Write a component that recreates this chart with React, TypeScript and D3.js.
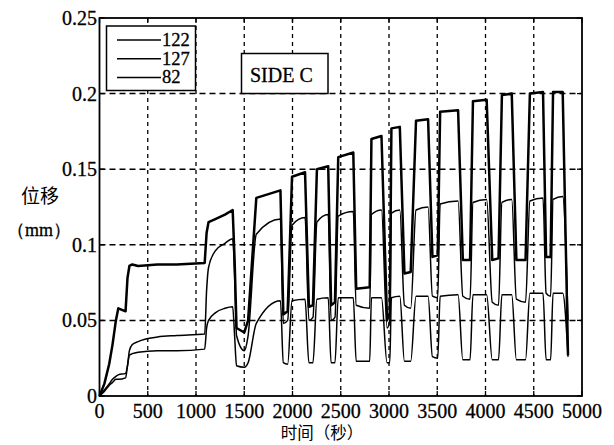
import React from "react";
import * as d3 from "d3";

// time axis shared by the three gauges (seconds)
const timeSec = [
  0, 50, 100, 135, 170, 195, 270, 290, 310, 340, 400, 600, 800, 1090, 1110, 1130, 1200, 1300, 1380,
  1400, 1420, 1500, 1540, 1625,
  1875, 1905, 1950, 1995,
  2130, 2170, 2212, 2253,
  2370, 2400, 2440, 2474,
  2630, 2660, 2800, 2818,
  2922, 2980, 3008, 3025,
  3112, 3160, 3225, 3280,
  3405, 3450, 3505, 3530,
  3716, 3765, 3840, 3870,
  4012, 4070, 4135, 4170,
  4272, 4320, 4415, 4460,
  4596, 4628, 4675, 4700,
  4800, 4855,
];

// displacement (mm)
const disp122 = [
  0, 0.008, 0.021, 0.034, 0.05, 0.058, 0.056, 0.078, 0.086, 0.087, 0.086, 0.087, 0.087, 0.088, 0.108, 0.115, 0.117, 0.12, 0.123,
  0.09, 0.045, 0.042, 0.05, 0.131,
  0.136, 0.054, 0.056, 0.145,
  0.148, 0.059, 0.06, 0.15,
  0.152, 0.06, 0.062, 0.158,
  0.161, 0.071, 0.072, 0.17,
  0.172, 0.05, 0.055, 0.177,
  0.178, 0.081, 0.082, 0.182,
  0.183, 0.092, 0.093, 0.188,
  0.189, 0.09, 0.09, 0.195,
  0.196, 0.09, 0.091, 0.199,
  0.2, 0.09, 0.09, 0.2,
  0.201, 0.092, 0.092, 0.201,
  0.201, 0.027,
];

const disp127 = [
  0, 0.004, 0.008, 0.011, 0.013, 0.014, 0.015, 0.02, 0.03, 0.034, 0.036, 0.039, 0.04, 0.041, 0.07, 0.085, 0.096, 0.101, 0.104,
  0.08, 0.04, 0.03, 0.04, 0.107,
  0.117, 0.048, 0.05, 0.113,
  0.118, 0.05, 0.052, 0.115,
  0.12, 0.05, 0.052, 0.119,
  0.122, 0.06, 0.058, 0.12,
  0.123, 0.045, 0.05, 0.121,
  0.123, 0.06, 0.058, 0.123,
  0.125, 0.066, 0.065, 0.127,
  0.129, 0.066, 0.064, 0.128,
  0.13, 0.062, 0.06, 0.128,
  0.13, 0.064, 0.062, 0.129,
  0.131, 0.068, 0.066, 0.13,
  0.132, 0.05,
];

const disp82 = [
  0, 0.003, 0.007, 0.009, 0.011, 0.011, 0.012, 0.02, 0.027, 0.028, 0.029, 0.03, 0.03, 0.031, 0.045, 0.05, 0.055, 0.058, 0.059,
  0.04, 0.02, 0.019, 0.022, 0.048,
  0.063, 0.022, 0.021, 0.063,
  0.064, 0.022, 0.022, 0.064,
  0.065, 0.022, 0.022, 0.065,
  0.065, 0.023, 0.023, 0.065,
  0.065, 0.022, 0.022, 0.065,
  0.066, 0.023, 0.023, 0.066,
  0.066, 0.026, 0.025, 0.066,
  0.067, 0.024, 0.024, 0.067,
  0.067, 0.024, 0.024, 0.067,
  0.067, 0.024, 0.024, 0.068,
  0.068, 0.024, 0.024, 0.068,
  0.068, 0.026,
];

const seriesNames = ["122", "127", "82"];
const xTicks = [0, 500, 1000, 1500, 2000, 2500, 3000, 3500, 4000, 4500, 5000];
const yTicks = [0, 0.05, 0.1, 0.15, 0.2, 0.25];
const yTickLabels = ["0", "0.05", "0.1", "0.15", "0.2", "0.25"];

const W = 614;
const H = 445;
const left = 99.5;
const right = 582;
const top = 18;
const bottom = 396;
const serif = "'Liberation Serif', 'Times New Roman', serif";
const cjk = "'Noto Sans CJK SC', sans-serif";

export default function App() {
  const x = d3.scaleLinear().domain([0, 5000]).range([left, right]);
  const y = d3.scaleLinear().domain([0, 0.25]).range([bottom, top]);

  const makeLine = (curve: d3.CurveFactory) =>
    d3
      .line<number>()
      .x((d, i) => x(timeSec[i]))
      .y((d) => y(d))
      .curve(curve);

  // the top gauge is drawn sharp, the two others have rounder corners
  const series = [
    { name: seriesNames[0], values: disp122, width: 2.5, line: makeLine(d3.curveLinear) },
    { name: seriesNames[1], values: disp127, width: 1.5, line: makeLine(d3.curveMonotoneX) },
    { name: seriesNames[2], values: disp82, width: 1.5, line: makeLine(d3.curveMonotoneX) },
  ];

  const textInk = { fill: "#000", stroke: "#000", strokeWidth: 0.3 };

  return (
    <svg
      width={W}
      height={H}
      style={{ position: "absolute", left: 0, top: 0, background: "#fff" }}
    >
      {/* grid */}
      {xTicks.slice(1, -1).map((t) => (
        <line
          key={"gx" + t}
          x1={x(t)}
          x2={x(t)}
          y1={top}
          y2={bottom}
          stroke="#000"
          strokeWidth={1.3}
          strokeDasharray="4,4"
        />
      ))}
      {yTicks.slice(1, -1).map((t) => (
        <line
          key={"gy" + t}
          x1={left}
          x2={right}
          y1={y(t)}
          y2={y(t)}
          stroke="#000"
          strokeWidth={1.5}
          strokeDasharray="6,4"
        />
      ))}

      {/* series */}
      {series.map((s) => (
        <path
          key={s.name}
          d={s.line(s.values) || ""}
          fill="none"
          stroke="#000"
          strokeWidth={s.width}
          strokeLinejoin="round"
        />
      ))}

      {/* frame */}
      <rect
        x={left}
        y={top}
        width={right - left}
        height={bottom - top}
        fill="none"
        stroke="#000"
        strokeWidth={1.8}
      />
      {xTicks.map((t) => (
        <g key={"tx" + t}>
          <line x1={x(t)} x2={x(t)} y1={bottom} y2={bottom - 5} stroke="#000" strokeWidth={1.3} />
          <line x1={x(t)} x2={x(t)} y1={top} y2={top + 5} stroke="#000" strokeWidth={1.3} />
          <text x={x(t)} y={418} textAnchor="middle" fontFamily={serif} fontSize={20} {...textInk}>
            {t}
          </text>
        </g>
      ))}
      {yTicks.map((t, i) => (
        <g key={"ty" + t}>
          <line x1={left} x2={left + 5} y1={y(t)} y2={y(t)} stroke="#000" strokeWidth={1.3} />
          <line x1={right} x2={right - 5} y1={y(t)} y2={y(t)} stroke="#000" strokeWidth={1.3} />
          <text
            x={97}
            y={y(t)}
            dy="0.35em"
            textAnchor="end"
            fontFamily={serif}
            fontSize={20}
            {...textInk}
          >
            {yTickLabels[i]}
          </text>
        </g>
      ))}

      {/* legend */}
      <rect x={106.5} y={26} width={89} height={64.5} fill="#fff" stroke="#000" strokeWidth={1.5} />
      {series.map((s, i) => (
        <g key={"lg" + s.name}>
          <line
            x1={117}
            x2={161}
            y1={40 + i * 18.7}
            y2={40 + i * 18.7}
            stroke="#000"
            strokeWidth={1.5}
          />
          <text x={162} y={46 + i * 18.7} fontFamily={serif} fontSize={18.5} {...textInk}>
            {s.name}
          </text>
        </g>
      ))}

      {/* annotation */}
      <rect x={241.5} y={53.5} width={86.5} height={40} fill="#fff" stroke="#000" strokeWidth={1.5} />
      <text x={250} y={82} fontFamily={serif} fontSize={20} {...textInk}>
        SIDE C
      </text>

      {/* axis titles */}
      <text x={40} y={203} textAnchor="middle" fontFamily={cjk} fontSize={19} fill="#000">
        位移
      </text>
      <text x={39} y={236} textAnchor="middle" fontFamily={serif} fontSize={18} {...textInk}>
        （mm）
      </text>
      <text x={322} y={439} textAnchor="middle" fontFamily={cjk} fontSize={16.5} fill="#000">
        时间（秒）
      </text>
    </svg>
  );
}
